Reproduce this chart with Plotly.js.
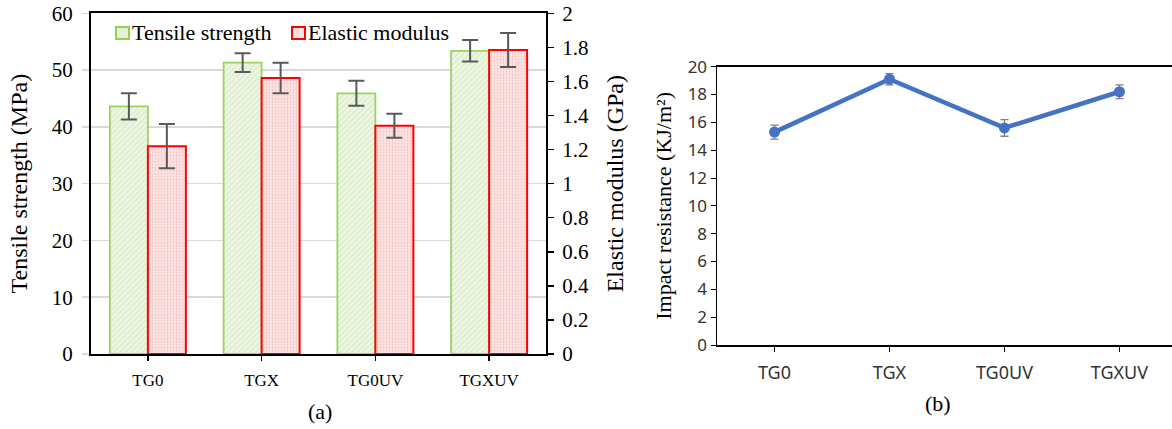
<!DOCTYPE html>
<html>
<head>
<meta charset="utf-8">
<script src="https://cdn.plot.ly/plotly-3.0.1.min.js"></script>
<style>html,body{margin:0;padding:0;background:#fff;}#chart{width:1172px;height:429px;}</style>
</head>
<body>
<div id="chart"></div>
<script>
// ---- data ----
var categories = ["TG0", "TGX", "TG0UV", "TGXUV"];
var tensileName = "Tensile strength";
var tensile = [43.6, 51.3, 45.9, 53.4];
var tensileErr = [2.3, 1.65, 2.2, 1.9];
var modulusName = "Elastic modulus";
var modulus = [1.22, 1.62, 1.34, 1.785];
var modulusErr = [0.13, 0.09, 0.07, 0.1];
var impact = [15.3, 19.1, 15.6, 18.2];
var impactErr = [0.5, 0.4, 0.6, 0.5];
var labelA = "(a)";
var labelB = "(b)";

var W = 1172, H = 429;
function px(x){ return x / W; }
function py(y){ return 1 - y / H; }

var serif = "Liberation Serif, Times New Roman, serif";
var sans = "Noto Sans, Open Sans, sans-serif";

var traces = [
  {
    type: "bar", x: categories, y: tensile, name: tensileName,
    xaxis: "x", yaxis: "y", width: 0.334, offset: -0.334,
    marker: {
      color: "#edf6e4",
      line: {color: "#9bd35f", width: 1.8},
      pattern: {shape: "/", fgcolor: "#b9db93", size: 4, solidity: 0.25, fillmode: "overlay"}
    },
    error_y: {type: "data", array: tensileErr, visible: true, color: "#595959", thickness: 2, width: 8},
    showlegend: false, hoverinfo: "y"
  },
  {
    type: "bar", x: categories, y: modulus, name: modulusName,
    xaxis: "x", yaxis: "y2", width: 0.334, offset: 0,
    marker: {
      color: "#fbe6e6",
      line: {color: "#ff0000", width: 2},
      pattern: {shape: ".", fgcolor: "#ee9e9e", size: 3, solidity: 0.35, fillmode: "overlay"}
    },
    error_y: {type: "data", array: modulusErr, visible: true, color: "#595959", thickness: 2, width: 8},
    showlegend: false, hoverinfo: "y"
  },
  {
    type: "scatter", mode: "lines+markers", x: categories, y: impact,
    xaxis: "x2", yaxis: "y3",
    line: {color: "#4472c4", width: 4.5},
    marker: {color: "#4472c4", size: 11},
    error_y: {type: "data", array: impactErr, visible: true, color: "#7f7f7f", thickness: 1.3, width: 4},
    showlegend: false
  }
];

var layout = {
  width: W, height: H,
  margin: {l: 0, r: 0, t: 0, b: 0},
  paper_bgcolor: "#fff", plot_bgcolor: "rgba(0,0,0,0)",
  showlegend: false,
  xaxis: {
    domain: [px(91), px(546)], anchor: "y",
    type: "category", range: [-0.5, 3.5],
    showline: true, linecolor: "#000", linewidth: 2, mirror: true,
    ticks: "outside", ticklen: 5, tickcolor: "#000", tickwidth: 1.5,
    ticklabelstandoff: 5,
    showgrid: false, zeroline: false,
    tickfont: {family: serif, size: 17, color: "#000"}
  },
  yaxis: {
    domain: [py(354), py(13.3)], anchor: "x",
    range: [0, 60], dtick: 10,
    showline: true, linecolor: "#000", linewidth: 2,
    ticks: "outside", ticklen: 7, tickcolor: "#d9d9d9", tickwidth: 1.5,
    ticklabelstandoff: 5,
    showgrid: true, gridcolor: "#d9d9d9", gridwidth: 1.5, zeroline: false,
    tickfont: {family: serif, size: 21, color: "#000"},
    title: {text: "Tensile strength (MPa)", font: {family: serif, size: 24, color: "#000"}, standoff: 17}
  },
  yaxis2: {
    overlaying: "y", side: "right", anchor: "x",
    range: [0, 2], dtick: 0.2,
    showline: true, linecolor: "#000", linewidth: 2,
    ticks: "outside", ticklen: 6, tickcolor: "#000", tickwidth: 1.5,
    ticklabelstandoff: 4,
    showgrid: false, zeroline: false,
    tickfont: {family: serif, size: 21, color: "#000"},
    title: {text: "Elastic modulus (GPa)", font: {family: serif, size: 24, color: "#000"}, standoff: 18}
  },
  xaxis2: {
    domain: [px(717), 1], anchor: "y3",
    type: "category", range: [-0.5, 3.457],
    showline: true, linecolor: "#000", linewidth: 1.5, mirror: true,
    ticks: "outside", ticklen: 5, tickcolor: "#000", tickwidth: 1,
    ticklabelstandoff: 6,
    showgrid: false, zeroline: false,
    tickfont: {family: sans, size: 18, color: "#333"}
  },
  yaxis3: {
    domain: [py(345), py(66.7)], anchor: "x2",
    range: [0, 20], dtick: 2,
    showline: true, linecolor: "#000", linewidth: 1.5,
    ticks: "outside", ticklen: 5, tickcolor: "#000", tickwidth: 1,
    showgrid: false, zeroline: false,
    tickfont: {family: sans, size: 17, color: "#333"},
    title: {text: "Impact resistance (KJ/m²)", font: {family: serif, size: 22, color: "#000"}, standoff: 10}
  },
  shapes: [
    {type: "rect", xref: "paper", yref: "paper", x0: px(116), x1: px(129), y0: py(39), y1: py(27),
     fillcolor: "#e4f1d6", line: {color: "#92d050", width: 2}},
    {type: "rect", xref: "paper", yref: "paper", x0: px(292), x1: px(305), y0: py(39), y1: py(27),
     fillcolor: "#fbe2e2", line: {color: "#ff0000", width: 2}}
  ],
  annotations: [
    {xref: "paper", yref: "paper", x: px(130), y: py(33), xanchor: "left", yanchor: "middle", showarrow: false,
     text: tensileName, font: {family: serif, size: 22, color: "#000"}},
    {xref: "paper", yref: "paper", x: px(306), y: py(33), xanchor: "left", yanchor: "middle", showarrow: false,
     text: modulusName, font: {family: serif, size: 22, color: "#000"}},
    {xref: "paper", yref: "paper", x: px(320), y: py(411), xanchor: "center", yanchor: "middle", showarrow: false,
     text: labelA, font: {family: serif, size: 22, color: "#000"}},
    {xref: "paper", yref: "paper", x: px(938), y: py(403), xanchor: "center", yanchor: "middle", showarrow: false,
     text: labelB, font: {family: serif, size: 22, color: "#000"}}
  ]
};

Plotly.newPlot("chart", traces, layout, {displayModeBar: false, staticPlot: true});
</script>
</body>
</html>
